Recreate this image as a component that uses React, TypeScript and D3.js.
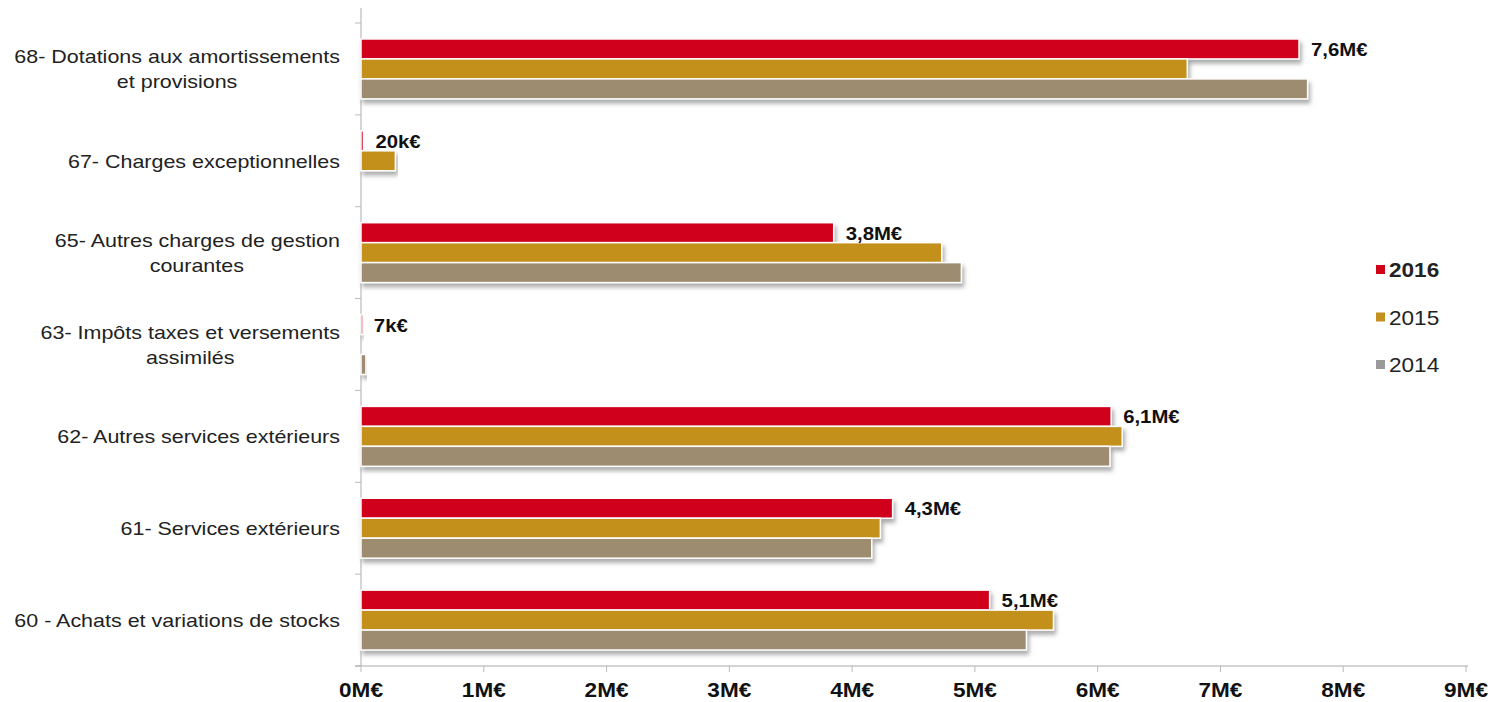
import React from "react";
import * as d3 from "d3";

const categories = [
  ["68- Dotations aux amortissements", "et provisions"],
  ["67- Charges exceptionnelles"],
  ["65- Autres charges de gestion", "courantes"],
  ["63- Impôts taxes et versements", "assimilés"],
  ["62- Autres services extérieurs"],
  ["61- Services extérieurs"],
  ["60 - Achats et variations de stocks"],
];
const years = ["2016", "2015", "2014"];
const values2016 = [7.64, 0.02, 3.85, 0.007, 6.11, 4.33, 5.12];
const values2015 = [6.73, 0.28, 4.73, 0.0, 6.2, 4.23, 5.64];
const values2014 = [7.71, 0.0, 4.89, 0.04, 6.1, 4.16, 5.42];
const labels2016 = ["7,6M€", "20k€", "3,8M€", "7k€", "6,1M€", "4,3M€", "5,1M€"];
const ticks = [0, 1, 2, 3, 4, 5, 6, 7, 8, 9];
const colors = ["#d0021a", "#c4901f", "#9e8c70"];
const legendColors = ["#d0021a", "#c4901f", "#9a9a9a"];

const FONT = "Arial, 'Liberation Sans', sans-serif";
const SX = 1.13;

let _ctx: CanvasRenderingContext2D | null = null;
function measure(text: string, size: number, weight = "normal") {
  if (!_ctx) _ctx = document.createElement("canvas").getContext("2d");
  if (!_ctx) return text.length * size * 0.5;
  _ctx.font = `${weight} ${size}px ${FONT}`;
  return _ctx.measureText(text).width;
}

function T(props: { x: number; y: number; anchor?: string; size: number; bold?: boolean; fill?: string; children: React.ReactNode }) {
  return (
    <text
      transform={`translate(${props.x},${props.y}) scale(${SX},1)`}
      textAnchor={props.anchor || "start"}
      fontSize={props.size}
      fontWeight={props.bold ? "bold" : "normal"}
      fill={props.fill || "#222"}
    >
      {props.children}
    </text>
  );
}

export default function App() {
  const W = 1493, H = 702;
  const left = 361, right = 1466, top = 23, bottom = 666;
  const x = d3.scaleLinear().domain([0, 9]).range([left, right]);
  const y = d3.scaleBand<number>().domain(d3.range(categories.length)).range([top, bottom]);
  const inner = d3.scaleBand<number>().domain([0, 1, 2]).range([0, y.bandwidth()]).paddingOuter(0.8).paddingInner(0);
  const series = [values2016, values2015, values2014];
  const labelRight = 340;
  const catSize = 19;
  return (
    <svg width={W} height={H} style={{ position: "absolute", left: 0, top: 0, background: "#fff" }} fontFamily={FONT}>
      <defs>
        <filter id="sh" x="-5%" y="-30%" width="110%" height="190%">
          <feDropShadow dx="2" dy="4" stdDeviation="2" floodColor="#777" floodOpacity="0.6" />
        </filter>
      </defs>
      <line x1={left} x2={left} y1={top - 15} y2={bottom} stroke="#bbb" strokeWidth={1.2} />
      {d3.range(categories.length + 1).map((i) => {
        const yy = i < categories.length ? y(i)! : bottom;
        return <line key={"yt" + i} x1={left - 6} x2={left} y1={yy} y2={yy} stroke="#bbb" />;
      })}
      <line x1={left - 6} x2={right + 2} y1={bottom} y2={bottom} stroke="#aaa" strokeWidth={1.2} />
      {ticks.map((t) => (
        <g key={"xt" + t}>
          <line x1={x(t)} x2={x(t)} y1={bottom} y2={bottom + 6} stroke="#bbb" />
          <T x={x(t)} y={697} anchor="middle" size={20} bold fill="#111">
            {t}M€
          </T>
        </g>
      ))}
      {categories.map((cat, i) => {
        const cy = y(i)! + y.bandwidth() / 2 + 7;
        const w0 = measure(cat[0], catSize) * SX;
        return (
          <g key={"c" + i}>
            {series.map((s, k) =>
              s[i] > 0 ? (
                <rect
                  key={k}
                  x={x(0)}
                  y={y(i)! + inner(k)!}
                  width={Math.max(x(s[i]) - x(0), 2)}
                  height={inner.bandwidth()}
                  fill={colors[k]}
                  stroke="#fff"
                  strokeWidth={1.5}
                  filter="url(#sh)"
                />
              ) : null
            )}
            <T x={x(values2016[i]) + 12} y={y(i)! + inner(0)! + inner.bandwidth() / 2 + 7} size={18} bold fill="#111">
              {labels2016[i]}
            </T>
            {cat.length === 1 ? (
              <T x={labelRight} y={cy} anchor="end" size={catSize}>
                {cat[0]}
              </T>
            ) : (
              <>
                <T x={labelRight} y={cy - 12.5} anchor="end" size={catSize}>
                  {cat[0]}
                </T>
                <T x={labelRight - w0 / 2} y={cy + 12.5} anchor="middle" size={catSize}>
                  {cat[1]}
                </T>
              </>
            )}
          </g>
        );
      })}
      {years.map((yr, k) => (
        <g key={"l" + k}>
          <rect x={1376} y={265 + k * 47.5} width={9} height={9} fill={legendColors[k]} />
          <T x={1389} y={277 + k * 47.5} size={20} bold={k === 0}>
            {yr}
          </T>
        </g>
      ))}
    </svg>
  );
}
